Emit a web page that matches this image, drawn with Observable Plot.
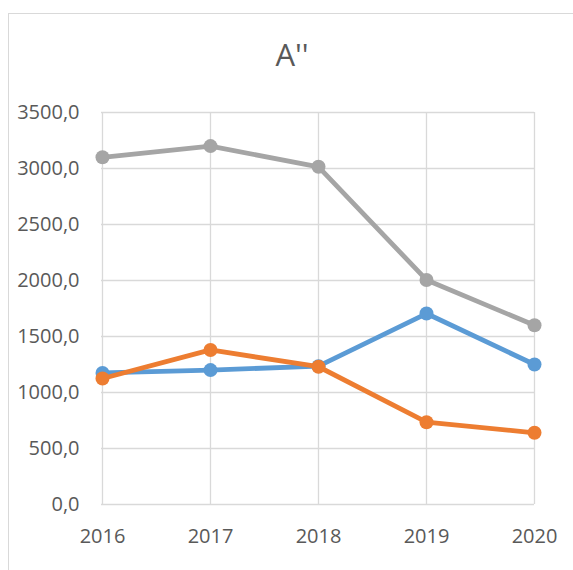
<!DOCTYPE html>
<html>
<head>
<meta charset="utf-8">
<script src="https://cdn.jsdelivr.net/npm/d3@7"></script>
<script src="https://cdn.jsdelivr.net/npm/@observablehq/plot@0.6"></script>
<style>
  html, body { margin: 0; padding: 0; background: #fff; overflow: hidden; }
  #wrap { position: relative; width: 573px; height: 570px; }
  #border { position: absolute; left: 8px; top: 13px; width: 700px; height: 700px;
            border-left: 1.3px solid #D9D9D9; border-top: 1.3px solid #D9D9D9; box-sizing: border-box; }
  #title { position: absolute; left: 0; width: 584px; top: 39px; text-align: center;
           font-family: "Open Sans", sans-serif; font-size: 31px; line-height: 31px; color: #595959; }
  #chart { position: absolute; left: 0; top: 0; }
</style>
</head>
<body>
<div id="wrap">
  <div id="border"></div>
  <div id="chart"></div>
  <div id="title">A''</div>
</div>
<script>
const years = [2016, 2017, 2018, 2019, 2020];
const seriesNames = ["blue", "orange", "gray"];
const blueValues = [1175, 1200, 1235, 1705, 1250];
const orangeValues = [1125, 1380, 1230, 735, 640];
const grayValues = [3100, 3200, 3015, 2005, 1600];
const yTicks = [0, 500, 1000, 1500, 2000, 2500, 3000, 3500];
const colors = {blue: "#5B9BD5", orange: "#ED7D31", gray: "#A5A5A5"};
const valuesBySeries = {blue: blueValues, orange: orangeValues, gray: grayValues};

const marks = [
  Plot.gridY(yTicks, {stroke: "#D9D9D9", strokeOpacity: 1, strokeWidth: 1.3}),
  Plot.gridX(years, {stroke: "#D9D9D9", strokeOpacity: 1, strokeWidth: 1.3}),
  Plot.axisY(yTicks, {tickSize: 0, tickPadding: 22, tickFormat: d => d.toFixed(1).replace(".", ","),
    fontSize: 20, fill: "#595959", label: null}),
  Plot.axisX(years, {tickSize: 0, tickPadding: 24, tickFormat: d => String(d),
    fontSize: 20, fill: "#595959", label: null})
];
for (const s of seriesNames) {
  const data = years.map((y, i) => ({year: y, value: valuesBySeries[s][i]}));
  marks.push(Plot.line(data, {x: "year", y: "value", stroke: colors[s], strokeWidth: 4.8,
    strokeLinejoin: "round", strokeLinecap: "round"}));
  marks.push(Plot.dot(data, {x: "year", y: "value", fill: colors[s], r: 7}));
}

const chart = Plot.plot({
  width: 573,
  height: 570,
  marginLeft: 101,
  marginRight: 39,
  marginTop: 112,
  marginBottom: 66,
  style: {fontFamily: "'Open Sans', sans-serif", background: "transparent", color: "#595959"},
  x: {type: "point", domain: years, padding: 0, axis: null},
  y: {domain: [0, 3500], axis: null},
  marks
});
document.getElementById("chart").appendChild(chart);
</script>
</body>
</html>
